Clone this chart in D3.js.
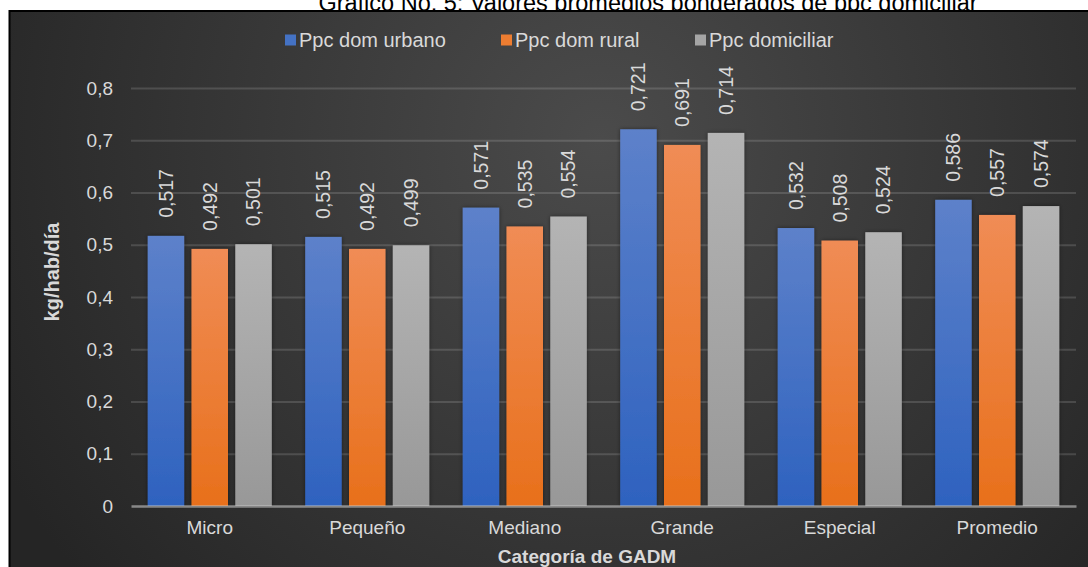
<!DOCTYPE html>
<html>
<head>
<meta charset="utf-8">
<script src="https://cdn.jsdelivr.net/npm/d3@7"></script>
<style>
  body { margin: 0; background: #ffffff; }
  svg { display: block; }
</style>
</head>
<body>
<svg id="chart" width="1088" height="567"></svg>
<script>
// ---- data ----
const categories = ["Micro", "Pequeño", "Mediano", "Grande", "Especial", "Promedio"];
const seriesNames = ["Ppc dom urbano", "Ppc dom rural", "Ppc domiciliar"];
const urbano     = [0.517, 0.515, 0.571, 0.721, 0.532, 0.586];
const rural      = [0.492, 0.492, 0.535, 0.691, 0.508, 0.557];
const domiciliar = [0.501, 0.499, 0.554, 0.714, 0.524, 0.574];
const yTicks = [0, 0.1, 0.2, 0.3, 0.4, 0.5, 0.6, 0.7, 0.8];
const titleText = "Gráfico No. 5: Valores promedios ponderados de ppc domiciliar";
const xTitle = "Categoría de GADM";
const yTitle = "kg/hab/día";

// ---- styling ----
const FONT = "'Liberation Sans', Arial, Helvetica, sans-serif";
const TEXT = "#d9d9d9";
const seriesStyle = [
  { swatch: "#4472c4", top: "#5d81ca", bottom: "#2e62bf" },
  { swatch: "#ed7d31", top: "#f08c55", bottom: "#e8701b" },
  { swatch: "#a5a5a5", top: "#b4b4b4", bottom: "#989898" }
];
const seriesValues = [urbano, rural, domiciliar];

const es = d3.formatLocale({ decimal: ",", thousands: ".", grouping: [3], currency: ["", ""] });
const fmtTick = v => (v === 0 ? "0" : es.format(".1f")(v));
const fmtLabel = es.format(".3f");

const svg = d3.select("#chart");
const defs = svg.append("defs");

// panel background: soft radial glow, darker corners
const bg = defs.append("radialGradient")
  .attr("id", "panelBg").attr("gradientUnits", "userSpaceOnUse")
  .attr("cx", 600).attr("cy", 140).attr("r", 680);
bg.append("stop").attr("offset", 0).attr("stop-color", "#4b4b4b");
bg.append("stop").attr("offset", 0.55).attr("stop-color", "#363636");
bg.append("stop").attr("offset", 1).attr("stop-color", "#252525");

seriesStyle.forEach((s, i) => {
  const g = defs.append("linearGradient").attr("id", "barGrad" + i)
    .attr("x1", 0).attr("y1", 0).attr("x2", 0).attr("y2", 1);
  g.append("stop").attr("offset", 0).attr("stop-color", s.top);
  g.append("stop").attr("offset", 1).attr("stop-color", s.bottom);
});

const shadow = defs.append("filter").attr("id", "barShadow")
  .attr("x", "-20%").attr("y", "-10%").attr("width", "140%").attr("height", "120%");
shadow.append("feDropShadow").attr("dx", 0).attr("dy", 0)
  .attr("stdDeviation", 2).attr("flood-color", "#000").attr("flood-opacity", 0.45);

// title (sits above the panel, lower part visible)
svg.append("text")
  .attr("x", 648).attr("y", 11)
  .attr("text-anchor", "middle")
  .attr("font-family", FONT).attr("font-size", 23.5)
  .attr("fill", "#000")
  .text(titleText);

// panel
svg.append("rect")
  .attr("x", 9.5).attr("y", 11).attr("width", 1080).attr("height", 570)
  .attr("fill", "url(#panelBg)")
  .attr("stroke", "#000").attr("stroke-width", 2);

// ---- scales ----
const plot = { left: 131, right: 1076, top: 88, bottom: 506 };
const x0 = d3.scaleBand().domain(categories).range([plot.left, plot.right]).padding(0);
const barW = x0.bandwidth() * 0.2317;
const groupW = barW * 3.4;
const groupOff = (x0.bandwidth() - groupW) / 2;
const x1 = d3.scaleBand().domain(d3.range(seriesNames.length))
  .range([groupOff, groupOff + groupW]).paddingInner(1 / 6).paddingOuter(0);
const y = d3.scaleLinear().domain([0, 0.8]).range([plot.bottom, plot.top]);

// gridlines
const yAxis = d3.axisLeft(y).tickValues(yTicks).tickFormat(fmtTick)
  .tickSize(-(plot.right - plot.left)).tickPadding(18);
const gy = svg.append("g").attr("transform", `translate(${plot.left},0)`).call(yAxis);
gy.select(".domain").remove();
gy.selectAll(".tick line")
  .attr("stroke", "rgba(255,255,255,0.14)").attr("stroke-width", 2)
  .filter(d => d === 0).remove();
gy.selectAll(".tick text")
  .attr("fill", TEXT).attr("font-family", FONT).attr("font-size", 19);

// bars
const groups = svg.append("g").selectAll("g")
  .data(categories).join("g")
  .attr("transform", d => `translate(${x0(d)},0)`);

const cells = groups.selectAll("g.cell")
  .data((c, ci) => seriesValues.map((vals, si) => ({ si, v: vals[ci] })))
  .join("g").attr("class", "cell");

cells.append("rect")
  .attr("x", d => x1(d.si))
  .attr("y", d => y(d.v))
  .attr("width", x1.bandwidth())
  .attr("height", d => y(0) - y(d.v))
  .attr("fill", d => `url(#barGrad${d.si})`)
  .attr("filter", "url(#barShadow)");

// value labels, rotated
cells.append("text")
  .attr("transform", d => `translate(${x1(d.si) + x1.bandwidth() / 2},${y(d.v) - 18}) rotate(-90)`)
  .attr("dy", "0.35em")
  .attr("text-anchor", "start")
  .attr("font-family", FONT).attr("font-size", 19.5)
  .attr("fill", TEXT)
  .text(d => fmtLabel(d.v));

// category axis
const xAxis = d3.axisBottom(x0).tickSize(0).tickPadding(15);
const gx = svg.append("g").attr("transform", `translate(0,${plot.bottom})`).call(xAxis);
gx.select(".domain")
  .attr("stroke", "rgba(200,200,200,0.6)").attr("stroke-width", 2.5);
gx.selectAll(".tick text")
  .attr("fill", TEXT).attr("font-family", FONT).attr("font-size", 19);

// axis titles
svg.append("text")
  .attr("x", 587).attr("y", 563)
  .attr("text-anchor", "middle")
  .attr("font-family", FONT).attr("font-size", 19).attr("font-weight", "bold")
  .attr("fill", TEXT)
  .text(xTitle);

svg.append("text")
  .attr("transform", `translate(52,${(plot.top + plot.bottom) / 2 - 25}) rotate(-90)`)
  .attr("dy", "0.35em")
  .attr("text-anchor", "middle")
  .attr("font-family", FONT).attr("font-size", 20).attr("font-weight", "bold")
  .attr("fill", TEXT)
  .text(yTitle);

// legend
const legendX = [285, 501, 695];
const legend = svg.append("g").selectAll("g")
  .data(seriesNames).join("g")
  .attr("transform", (d, i) => `translate(${legendX[i]},40)`);
legend.append("rect")
  .attr("x", 0).attr("y", -5.5).attr("width", 11).attr("height", 11)
  .attr("fill", (d, i) => seriesStyle[i].swatch);
legend.append("text")
  .attr("x", 14).attr("dy", "0.35em")
  .attr("font-family", FONT).attr("font-size", 20)
  .attr("fill", TEXT)
  .text(d => d);
</script>
</body>
</html>
